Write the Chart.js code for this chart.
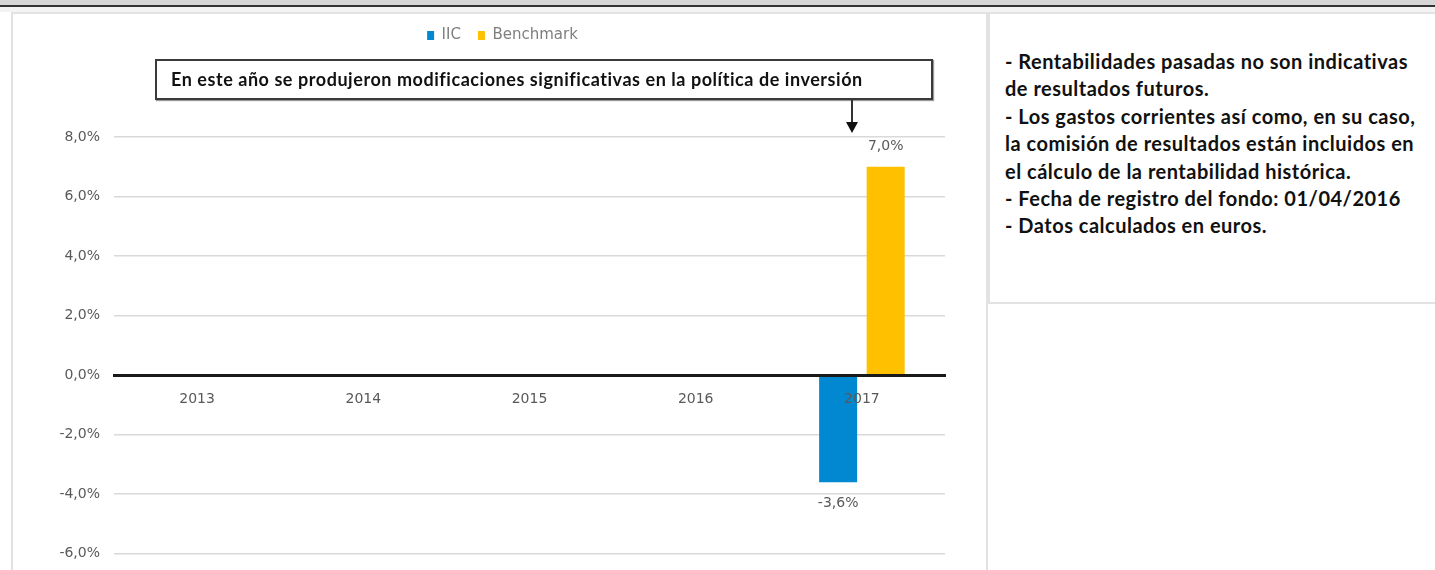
<!DOCTYPE html>
<html>
<head>
<meta charset="utf-8">
<script src="https://cdn.jsdelivr.net/npm/chart.js@4/dist/chart.umd.min.js"></script>
<style>
  html, body { margin: 0; padding: 0; }
  body { width: 1435px; height: 570px; overflow: hidden; position: relative; background: #fff; }
  #topbar { position: absolute; left: 0; top: 0; width: 1435px; height: 5px; background: #d6d6d6; }
  #topline { position: absolute; left: 0; top: 5px; width: 1435px; height: 2px; background: #333; }
  #strip { position: absolute; left: 0; top: 7px; width: 1435px; height: 5px; background: #f3f3f3; }
  #leftPanel { position: absolute; left: 11px; top: 12px; width: 973px; height: 600px; background: #fff; border: 2px solid #e2e2e2; }
  #rightPanel { position: absolute; left: 988px; top: 12px; width: 460px; height: 288px; background: #fff; border: 2px solid #e2e2e2; }
  #notes { position: absolute; left: 1005px; top: 48px; font: 700 20px Lato, sans-serif; letter-spacing: 0.5px; line-height: 27.4px; color: #111; white-space: nowrap; }
  canvas { position: absolute; left: 0; top: 0; }
  #note { position: absolute; left: 155px; top: 59px; width: 760px; height: 37px; border: 2px solid #3a3a3a; box-shadow: 1px 1px 1px #999; background: #fff; font: 700 18px Lato, sans-serif; letter-spacing: 0.55px; color: #111; line-height: 37px; padding-left: 14px; box-sizing: content-box; white-space: nowrap; }
  #arrowLine { position: absolute; left: 851px; top: 100px; width: 2px; height: 23px; background: #333; }
  #arrowHead { position: absolute; left: 846px; top: 122px; width: 0; height: 0; border-left: 6px solid transparent; border-right: 6px solid transparent; border-top: 11px solid #111; }
</style>
</head>
<body>
<div id="topbar"></div>
<div id="topline"></div>
<div id="strip"></div>
<div id="leftPanel"></div>
<div id="rightPanel"></div>
<div id="notes">
- Rentabilidades pasadas no son indicativas<br>
de resultados futuros.<br>
- Los gastos corrientes así como, en su caso,<br>
la comisión de resultados están incluidos en<br>
el cálculo de la rentabilidad histórica.<br>
- Fecha de registro del fondo: 01/04/2016<br>
- Datos calculados en euros.
</div>
<canvas id="chart" width="1435" height="576"></canvas>
<div id="note">En este año se produjeron modificaciones significativas en la política de inversión</div>
<div id="arrowLine"></div>
<div id="arrowHead"></div>

<script>
"use strict";

var years = ['2013', '2014', '2015', '2016', '2017'];
var iicValues = [null, null, null, null, -3.6];
var benchmarkValues = [null, null, null, null, 7.0];
var yTicks = [-6, -4, -2, 0, 2, 4, 6, 8];

var TEXT_GRAY = '#595959';

function pct(v) {
    return v.toFixed(1).replace('.', ',') + '%';
}

// value labels above / below each bar
var barLabels = {
    id: 'barLabels',
    afterDatasetsDraw: function(chart) {
        var ctx = chart.ctx;
        ctx.save();
        ctx.font = '14px "DejaVu Sans"';
        ctx.fillStyle = TEXT_GRAY;
        ctx.textAlign = 'center';
        ctx.textBaseline = 'middle';
        chart.data.datasets.forEach(function(ds, i) {
            var meta = chart.getDatasetMeta(i);
            meta.data.forEach(function(bar, j) {
                var v = ds.data[j];
                if (v === null) {
                    return;
                }
                var y = v >= 0 ? bar.y - 20 : bar.y + 21;
                ctx.fillText(pct(v), bar.x, y);
            });
        });
        ctx.restore();
    }
};

var chart = new Chart(document.getElementById('chart'), {
    type: 'bar',
    data: {
        labels: years,
        datasets: [{
            label: 'IIC',
            data: iicValues,
            backgroundColor: '#0288d1',
            borderWidth: 0
        }, {
            label: 'Benchmark',
            data: benchmarkValues,
            backgroundColor: '#ffc000',
            borderWidth: 0
        }]
    },
    options: {
        responsive: false,
        animation: false,
        devicePixelRatio: 1,
        categoryPercentage: 0.572,
        barPercentage: 0.8,
        layout: {
            padding: { left: 60, right: 490, top: 11, bottom: 11 }
        },
        plugins: {
            tooltip: { enabled: false },
            legend: {
                position: 'top',
                labels: {
                    boxWidth: 7,
                    boxHeight: 9,
                    padding: 17,
                    color: '#7f7f7f',
                    font: { family: 'DejaVu Sans', size: 15 }
                }
            }
        },
        scales: {
            x: {
                position: { y: 0 },
                grid: { display: false, drawTicks: false },
                border: { display: true, color: '#1a1a1a', width: 3, z: 1 },
                ticks: {
                    z: 1,
                    color: TEXT_GRAY,
                    padding: 16,
                    font: { family: 'DejaVu Sans', size: 14 }
                }
            },
            y: {
                min: -6,
                max: 8,
                afterBuildTicks: function(scale) {
                    scale.ticks = yTicks.map(function(v) {
                        return { value: v };
                    });
                },
                afterFit: function(scale) {
                    scale.width = 54;
                },
                grid: { color: '#d9d9d9', lineWidth: 1.5, drawTicks: false },
                border: { display: false },
                ticks: {
                    color: TEXT_GRAY,
                    padding: 14,
                    font: { family: 'DejaVu Sans', size: 14 },
                    callback: function(v) {
                        return pct(v);
                    }
                }
            }
        }
    },
    plugins: [barLabels]
});

// fix the legend block height so the plot starts where the reference does
chart.legend.fit = (function(orig) {
    return function() {
        orig.call(this);
        this.height = 126;
    };
})(chart.legend.fit);
chart.update();
</script>
</body>
</html>
